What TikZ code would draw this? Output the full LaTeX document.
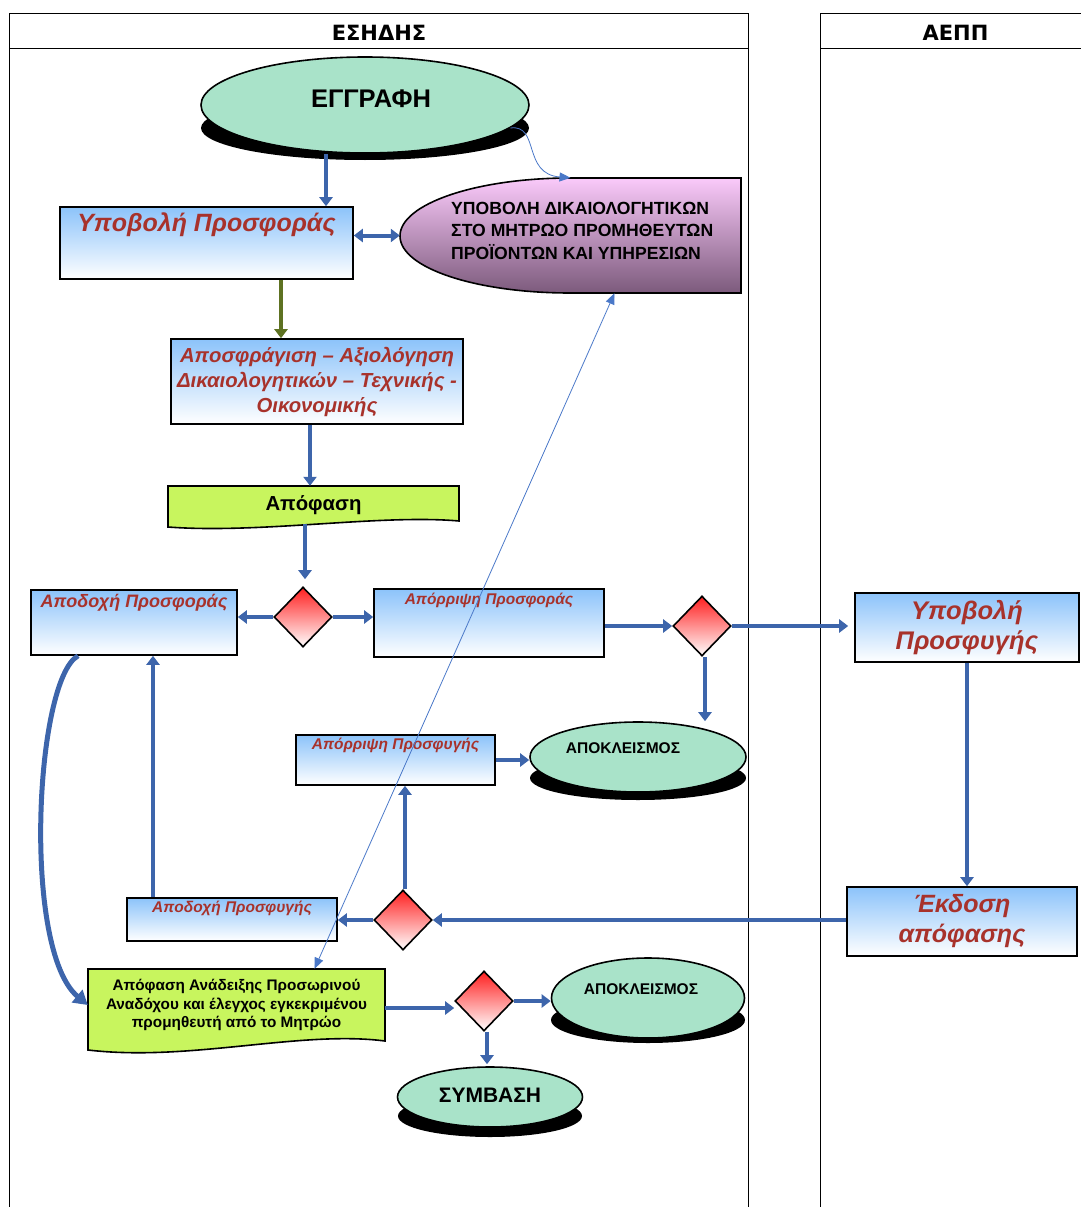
\documentclass[tikz,border=0pt]{standalone}
\usepackage{fontspec}
\setmainfont{Liberation Sans}
\newfontfamily\lanefont{DejaVu Sans}
\usetikzlibrary{shapes.geometric,arrows.meta}
\definecolor{flowblue}{HTML}{3D65AB}
\definecolor{linkblue}{HTML}{4A78C8}
\definecolor{boxblue}{HTML}{8CC3FA}
\definecolor{boxred}{HTML}{A8322B}
\definecolor{stategreen}{HTML}{A9E3C9}
\definecolor{docgreen}{HTML}{C8F55E}
\definecolor{pinktop}{HTML}{FACAFA}
\definecolor{pinkbottom}{HTML}{7C5A7C}
\definecolor{olivearrow}{HTML}{5E7222}
\definecolor{redtop}{HTML}{FF1F1F}
\begin{document}
\begin{tikzpicture}[x=1pt,y=-1pt,
    lane/.style={line width=0.8pt},
    flowbox/.style={draw,line width=1.6pt,top color=boxblue,bottom color=white,inner sep=0pt},
    boxtext/.style={text=boxred,align=center},
    choice/.style={diamond,draw,line width=1.6pt,top color=redtop,bottom color=white,minimum width=58pt,minimum height=60pt,inner sep=0pt},
    endstate/.style={ellipse,draw,line width=1.6pt,fill=stategreen,inner sep=0pt},
    docshape/.style={draw,line width=1.6pt,fill=docgreen},
    flow/.style={-{Triangle[length=9pt,width=13pt]},line width=4pt,draw=flowblue},
    link/.style={-{Triangle[length=11pt,width=9pt]},line width=0.8pt,draw=linkblue}]
    \useasboundingbox (0,0) rectangle (1080,1207);
    \foreach \l/\r in {9/748,820/1090}
    {
        \draw[lane] (\l,1207) |- (\r,13) -- (\r,1207);
        \draw[lane] (\l,48) -- (\r,48);
    }
    \node[font=\lanefont\bfseries\fontsize{21}{24}\selectfont,anchor=base] (eshdhs) at (379,40.5) {ΕΣΗΔΗΣ};
    \node[font=\lanefont\bfseries\fontsize{21}{24}\selectfont,anchor=base] (aepp) at (955.5,40.5) {ΑΕΠΠ};

    \fill (365,128) ellipse [x radius=164pt,y radius=32pt];
    \fill (638,778) ellipse [x radius=108pt,y radius=22pt];
    \fill (648,1020) ellipse [x radius=97pt,y radius=23pt];
    \fill (490,1116) ellipse [x radius=92pt,y radius=21pt];
    \node[endstate,minimum width=328pt,minimum height=96pt] (egrafi) at (365,105) {};
    \node[endstate,minimum width=216pt,minimum height=70pt] (apokl1) at (638,757) {};
    \node[endstate,minimum width=193pt,minimum height=80pt] (apokl2) at (648,998) {};
    \node[endstate,minimum width=185pt,minimum height=60pt] (symvasi) at (490,1097) {};
    \node[font=\bfseries\fontsize{25.5}{28}\selectfont,anchor=base] (egrafi-t) at (371,107) {ΕΓΓΡΑΦΗ};
    \node[font=\bfseries\fontsize{15.5}{18}\selectfont,anchor=base] (apokl1-t) at (623,753) {ΑΠΟΚΛΕΙΣΜΟΣ};
    \node[font=\bfseries\fontsize{15.5}{18}\selectfont,anchor=base] (apokl2-t) at (641,994) {ΑΠΟΚΛΕΙΣΜΟΣ};
    \node[font=\bfseries\fontsize{21}{24}\selectfont,anchor=base] (symvasi-t) at (490,1102) {ΣΥΜΒΑΣΗ};

    \path[draw,line width=1.6pt,top color=pinktop,bottom color=pinkbottom] (741,178) -- (570,178) .. controls (476,178) and (400,204) .. (400,236) .. controls (400,268) and (476,293) .. (570,293) -- (741,293) -- cycle;
    \node[minimum width=341pt,minimum height=115pt,inner sep=0pt] (reqs) at (570.5,235.5) {};
    \node[font=\bfseries\fontsize{17.6}{22.5}\selectfont,align=left,anchor=north west,inner sep=0pt] (reqs-t) at (451,202) {ΥΠΟΒΟΛΗ ΔΙΚΑΙΟΛΟΓΗΤΙΚΩΝ\\ΣΤΟ ΜΗΤΡΩΟ ΠΡΟΜΗΘΕΥΤΩΝ\\ΠΡΟΪΟΝΤΩΝ ΚΑΙ ΥΠΗΡΕΣΙΩΝ};

    \node[flowbox,minimum width=293pt,minimum height=72pt,label={[boxtext,font=\bfseries\itshape\fontsize{25}{29}\selectfont,anchor=base,yshift=-25pt]north:Υποβολή Προσφοράς}] (ypovoli) at (206.5,243) {};
    \node[flowbox,boxtext,font=\bfseries\itshape\fontsize{20.3}{25}\selectfont,minimum width=292pt,minimum height=85pt] (aposfr) at (317,381.5) {Αποσφράγιση – Αξιολόγηση\\Δικαιολογητικών – Τεχνικής -\\Οικονομικής};

    \draw[docshape] (168,486) -- (459,486) -- (459,521) .. controls (380,514) and (260,534) .. (168,527) -- cycle;
    \node[font=\bfseries\fontsize{20.3}{23}\selectfont,minimum width=291pt,minimum height=38pt,inner sep=0pt] (apofasi) at (313.5,505) {Απόφαση};

    \node[choice] (choice1) at (303,617) {};
    \node[choice] (choice2) at (702,626) {};
    \node[choice] (choice3) at (403,920) {};
    \node[choice] (choice4) at (484,1001) {};

    \node[flowbox,minimum width=206pt,minimum height=65pt,label={[boxtext,font=\bfseries\itshape\fontsize{18}{21}\selectfont,anchor=base,yshift=-18pt]north:Αποδοχή Προσφοράς}] (apodoxi1) at (134,622.5) {};
    \node[flowbox,minimum width=230pt,minimum height=68pt,label={[boxtext,font=\bfseries\itshape\fontsize{15.5}{18}\selectfont,anchor=base,yshift=-16pt]north:Απόρριψη Προσφοράς}] (aporripsi1) at (489,623) {};
    \node[flowbox,minimum width=199pt,minimum height=50pt,label={[boxtext,font=\bfseries\itshape\fontsize{15.5}{18}\selectfont,anchor=base,yshift=-15pt]north:Απόρριψη Προσφυγής}] (aporripsi2) at (395.5,760) {};
    \node[flowbox,minimum width=210pt,minimum height=43pt,label={[boxtext,font=\bfseries\itshape\fontsize{15.5}{18}\selectfont,anchor=base,yshift=-15pt]north:Αποδοχή Προσφυγής}] (apodoxi2) at (232,919.5) {};
    \node[flowbox,boxtext,font=\bfseries\itshape\fontsize{25.5}{30}\selectfont,minimum width=224pt,minimum height=69pt] (ypprosf) at (967,627.5) {Υποβολή\\Προσφυγής};
    \node[flowbox,boxtext,font=\bfseries\itshape\fontsize{25}{30}\selectfont,minimum width=230pt,minimum height=69pt] (ekdosi) at (962,921.5) {Έκδοση\\απόφασης};

    \draw[docshape] (88,969) -- (385,969) -- (385,1041) .. controls (300,1030) and (190,1062) .. (88,1050) -- cycle;
    \node[font=\bfseries\fontsize{15.3}{18.5}\selectfont,align=center,minimum width=297pt,minimum height=72pt,inner sep=0pt] (anadeixi) at (236.5,1005) {Απόφαση Ανάδειξης Προσωρινού\\Αναδόχου και έλεγχος εγκεκριμένου\\προμηθευτή από το Μητρώο};

    \draw[flow] (egrafi.south -| 326,0) -- (ypovoli.north -| 326,0);
    \draw[flow,{Triangle[length=9pt,width=13pt]}-{Triangle[length=9pt,width=13pt]}] (ypovoli.east |- reqs.west) -- (reqs.west);
    \draw[flow,draw=olivearrow] (ypovoli.south -| 281,0) -- (aposfr.north -| 281,0);
    \draw[flow] (aposfr.south -| 310,0) -- (apofasi.north -| 310,0);
    \draw[flow,shorten >=7pt] (apofasi.south -| 305,0) -- (choice1.north -| 305,0);
    \draw[flow] (choice1.west) -- (apodoxi1.east |- choice1.west);
    \draw[flow] (choice1.east) -- (aporripsi1.west |- choice1.east);
    \draw[flow] (aporripsi1.east |- choice2.west) -- (choice2.west);
    \draw[flow,shorten >=6pt] (choice2.east) -- (ypprosf.west |- choice2.east);
    \draw[flow] (choice2.south -| 705,0) -- (apokl1.north -| 705,0);
    \draw[flow] (ypprosf.south) -- (ypprosf.south |- ekdosi.north);
    \draw[flow] (ekdosi.west |- choice3.east) -- (choice3.east);
    \draw[flow] (choice3.west) -- (apodoxi2.east |- choice3.west);
    \draw[flow] (choice3.north -| 405,0) -- (aporripsi2.south -| 405,0);
    \draw[flow] (aporripsi2.east) -- (apokl1.west |- aporripsi2.east);
    \draw[flow] (apodoxi2.north -| 153,0) -- (apodoxi1.south -| 153,0);
    \draw[flow,line width=5pt,-{Triangle[length=14pt,width=16pt]}] (apodoxi1.south -| 78,0) .. controls (35,680) and (22,950) .. (anadeixi.west);
    \draw[flow] (anadeixi.east |- 0,1008) -- (choice4.west |- 0,1008);
    \draw[flow] (choice4.east) -- (apokl2.west |- choice4.east);
    \draw[flow,shorten >=2pt] (choice4.south -| 487,0) -- (symvasi.north -| 487,0);

    \draw[link] (egrafi.-9) .. controls (540,124) and (522,174) .. (reqs.north);
    \draw[link,{Triangle[length=11pt,width=9pt]}-{Triangle[length=11pt,width=9pt]}] ([xshift=44pt]reqs.south) -- ([xshift=78pt]anadeixi.north);
\end{tikzpicture}
\end{document}
